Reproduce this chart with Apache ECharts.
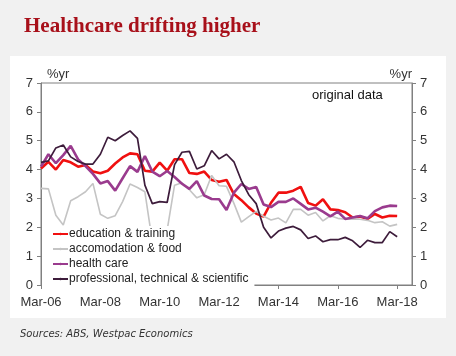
<!DOCTYPE html>
<html>
<head>
<meta charset="utf-8">
<script src="https://cdn.jsdelivr.net/npm/echarts@6/dist/echarts.min.js"></script>
<style>html,body{margin:0;padding:0;background:#f1f1f1;}#c{width:456px;height:356px;}</style>
</head>
<body>
<div id="c"></div>
<script>
const categories = [
  'Mar-06','Jun-06','Sep-06','Dec-06','Mar-07','Jun-07','Sep-07','Dec-07',
  'Mar-08','Jun-08','Sep-08','Dec-08','Mar-09','Jun-09','Sep-09','Dec-09',
  'Mar-10','Jun-10','Sep-10','Dec-10','Mar-11','Jun-11','Sep-11','Dec-11',
  'Mar-12','Jun-12','Sep-12','Dec-12','Mar-13','Jun-13','Sep-13','Dec-13',
  'Mar-14','Jun-14','Sep-14','Dec-14','Mar-15','Jun-15','Sep-15','Dec-15',
  'Mar-16','Jun-16','Sep-16','Dec-16','Mar-17','Jun-17','Sep-17','Dec-17',
  'Mar-18','Jun-18','Sep-18'
];
const seriesNames = ['education & training','accomodation & food','health care','professional, technical & scientific'];
const education = [4.04,4.27,4.0,4.33,4.25,4.1,4.16,3.93,3.87,3.96,4.21,4.42,4.56,4.53,3.96,3.93,4.24,3.96,4.36,4.36,3.88,3.85,3.93,3.64,3.58,3.64,3.15,2.94,2.69,2.48,2.37,2.85,3.2,3.2,3.27,3.4,2.84,2.75,2.97,2.62,2.6,2.52,2.34,2.37,2.29,2.46,2.34,2.4,2.39];
const accommodation = [3.35,3.33,2.42,2.08,2.92,3.06,3.23,3.52,2.45,2.31,2.4,2.89,3.5,3.38,3.23,1.5,1.6,1.9,3.46,3.54,3.3,3.02,3.13,3.8,3.44,3.42,2.83,2.18,2.37,2.55,2.38,2.25,2.32,2.15,2.62,2.62,2.42,2.51,2.22,2.4,2.31,2.28,2.29,2.28,2.24,2.16,2.19,2.04,2.1];
const healthCare = [4.1,4.53,4.22,4.5,4.82,4.35,4.12,3.85,3.52,3.6,3.27,3.7,4.12,3.92,4.47,3.93,3.77,3.95,3.74,3.51,3.33,3.6,3.1,2.98,2.97,2.6,3.2,3.5,3.33,3.4,2.79,2.7,2.88,2.88,3.0,2.81,2.62,2.68,2.54,2.38,2.54,2.29,2.34,2.39,2.31,2.56,2.69,2.75,2.74];
const professional = [4.25,4.3,4.75,4.85,4.44,4.28,4.19,4.19,4.53,5.12,5.0,5.18,5.34,5.08,3.46,2.82,2.89,2.86,4.17,4.6,4.63,4.02,4.13,4.66,4.37,4.53,4.27,3.62,3.13,2.82,2.0,1.63,1.87,1.97,2.03,1.91,1.61,1.7,1.5,1.57,1.57,1.65,1.53,1.3,1.55,1.47,1.47,1.85,1.67];
const yTicks = [0,1,2,3,4,5,6,7];

const chart = echarts.init(document.getElementById('c'), null, {renderer:'canvas'});
const axisColor = '#808080';
const labelStyle = {color:'#333', fontSize:13, fontFamily:'Liberation Sans, Arial, sans-serif'};
function yAxisCfg(pos){
  return {
    type:'value', position:pos, min:yTicks[0], max:yTicks[yTicks.length-1], interval:1,
    axisLine:{show:true, lineStyle:{color:axisColor, width:1}},
    axisTick:{show:true, inside:false, length:4, lineStyle:{color:axisColor}},
    axisLabel:Object.assign({margin:8}, labelStyle),
    splitLine:{show:false}
  };
}
chart.setOption({
  backgroundColor:'#f1f1f1',
  animation:false,
  title:{
    text:'Healthcare drifting higher', left:19, top:11,
    textStyle:{color:'#a8101a', fontSize:21, fontWeight:'bold', fontFamily:'Liberation Serif, serif'}
  },
  graphic:[
    {type:'rect', z:-10, shape:{x:10, y:56, width:436, height:262}, style:{fill:'#ffffff'}},
    {type:'text', left:47, top:68, style:{text:'%yr', fill:'#333', font:'13px "Liberation Sans", Arial'}},
    {type:'text', right:44, top:68, style:{text:'%yr', fill:'#333', font:'13px "Liberation Sans", Arial'}},
    {type:'text', left:312, top:89, style:{text:'original data', fill:'#111', font:'13px "Liberation Sans", Arial'}},
    {type:'text', left:20, top:329, style:{text:'Sources: ABS, Westpac Economics', fill:'#333', font:'italic 10px "DejaVu Sans", Verdana'}}
  ],
  grid:{left:41, right:44, top:83, height:202, show:true, borderColor:axisColor, borderWidth:1, backgroundColor:'transparent'},
  legend:{
    orient:'vertical', left:42, top:226, itemWidth:15, itemHeight:3, itemGap:1,
    backgroundColor:'#ffffff', padding:[1,6,3,10],
    textStyle:{color:'#222', fontSize:12, fontFamily:'Liberation Sans, Arial, sans-serif', lineHeight:14, padding:[0,0,0,-4]},
    data:seriesNames
  },
  xAxis:{
    type:'category', data:categories, boundaryGap:false,
    axisLine:{show:true, lineStyle:{color:axisColor}},
    axisTick:{show:true, interval:7, length:4, lineStyle:{color:axisColor}},
    axisLabel:Object.assign({interval:7, margin:11}, labelStyle)
  },
  yAxis:[yAxisCfg('left'), yAxisCfg('right')],
  series:[
    {name:seriesNames[0], type:'line', data:education, showSymbol:false, symbol:'none', lineStyle:{color:'#f01010', width:2.6}, itemStyle:{color:'#f01010'}},
    {name:seriesNames[1], type:'line', data:accommodation, showSymbol:false, symbol:'none', lineStyle:{color:'#c4c4c4', width:1.6}, itemStyle:{color:'#c4c4c4'}},
    {name:seriesNames[2], type:'line', data:healthCare, showSymbol:false, symbol:'none', lineStyle:{color:'#9a3b8e', width:2.6}, itemStyle:{color:'#9a3b8e'}},
    {name:seriesNames[3], type:'line', data:professional, showSymbol:false, symbol:'none', lineStyle:{color:'#3d1c3b', width:1.7}, itemStyle:{color:'#3d1c3b'}}
  ]
});
</script>
</body>
</html>
